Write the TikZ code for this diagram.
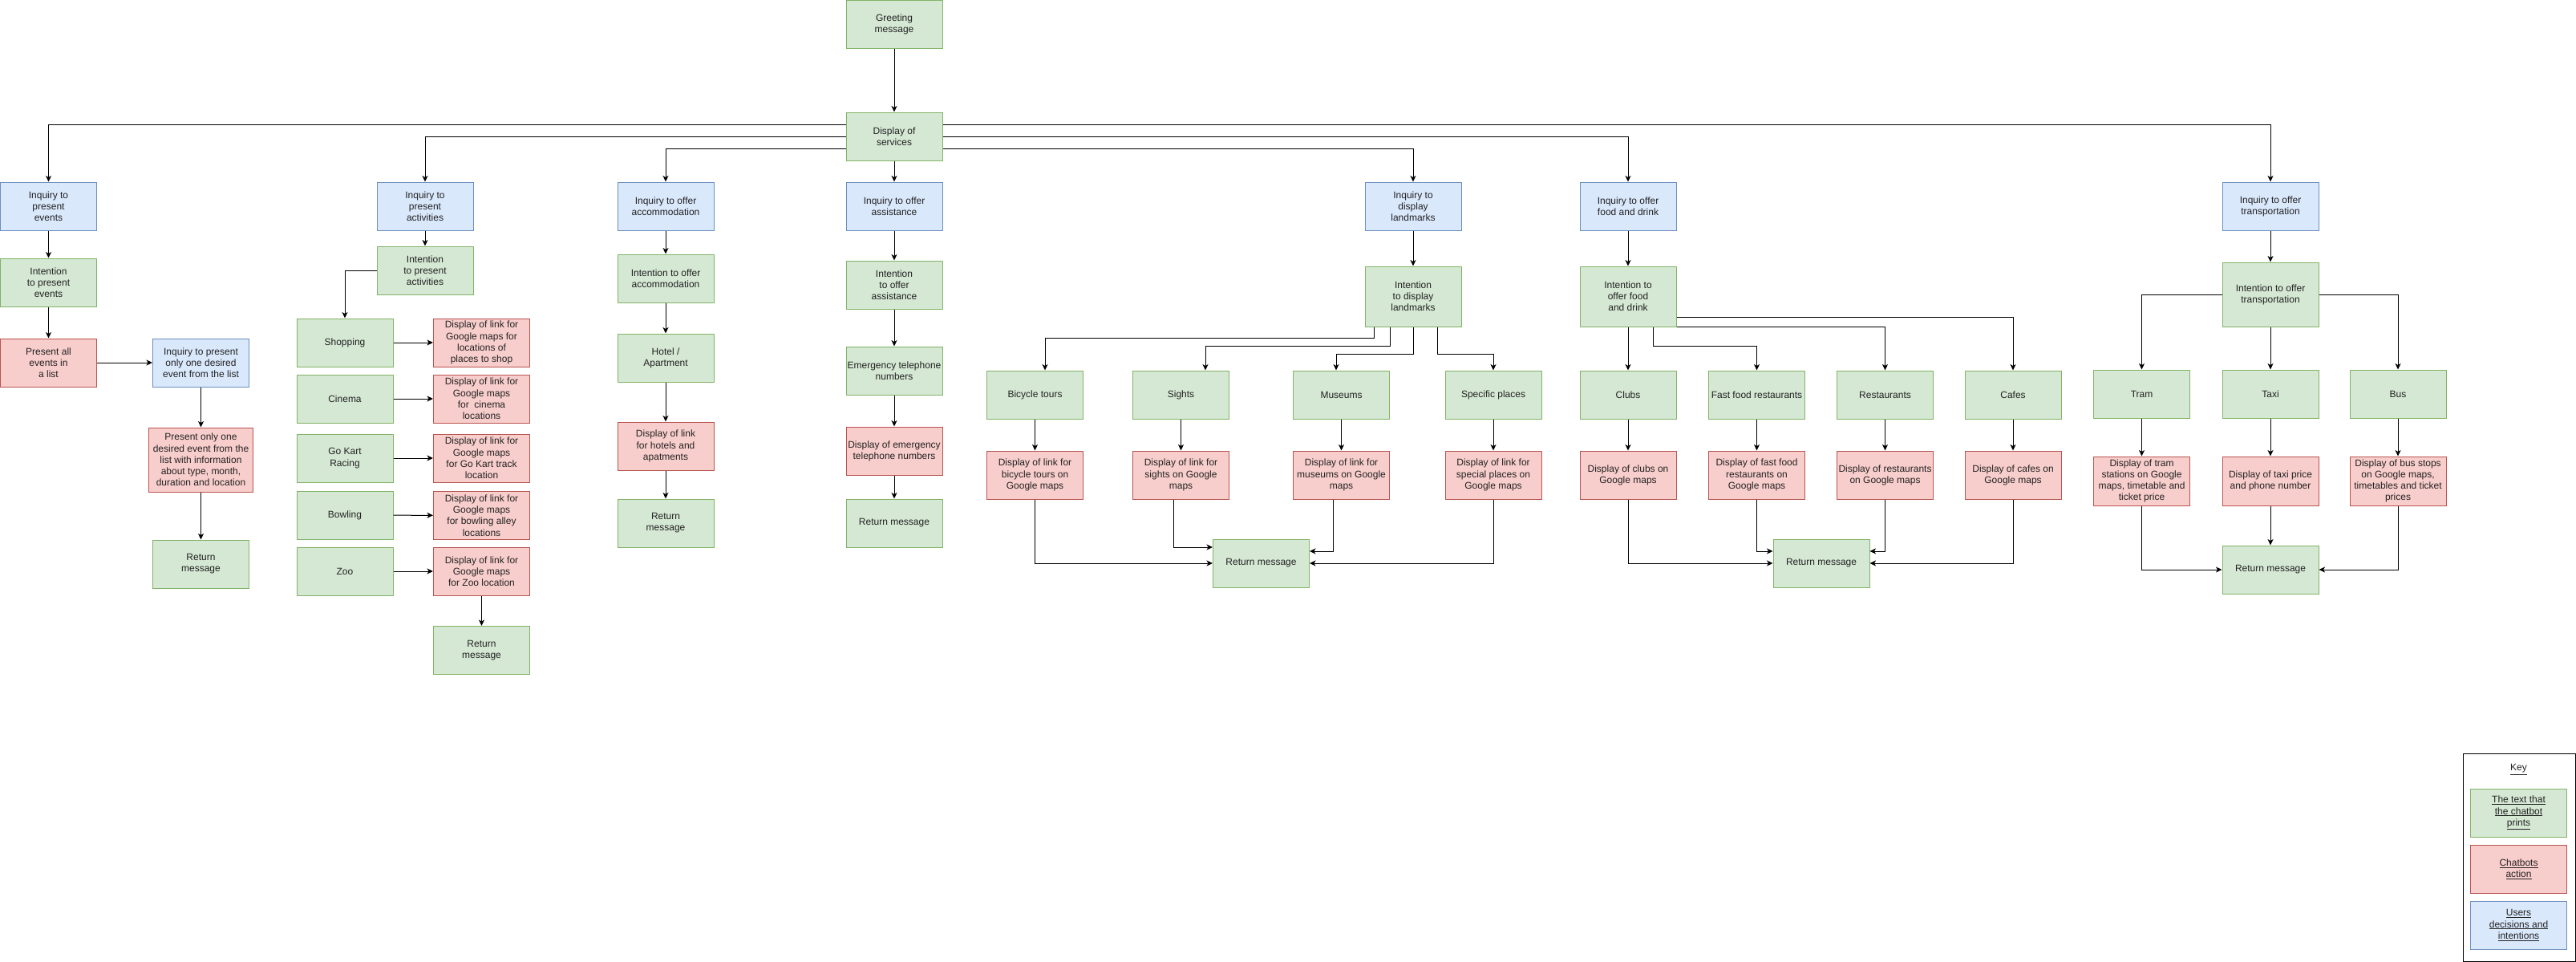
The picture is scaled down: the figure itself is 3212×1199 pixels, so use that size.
\documentclass[tikz,border=0pt]{standalone}
\usepackage{fontspec}
\setmainfont{Liberation Sans}
\usetikzlibrary{arrows.meta}
\definecolor{gfill}{HTML}{D5E8D4}\definecolor{gdraw}{HTML}{82B366}
\definecolor{rfill}{HTML}{F8CECC}\definecolor{rdraw}{HTML}{B85450}
\definecolor{bfill}{HTML}{DAE8FC}\definecolor{bdraw}{HTML}{6C8EBF}
\definecolor{txt}{HTML}{222222}
\begin{document}
\begin{tikzpicture}[x=1pt,y=-1pt,
  basebox/.style={draw, line width=1pt, minimum width=120pt, minimum height=60pt, inner sep=1pt, align=center, text=txt, font=\fontsize{12}{14.2}\selectfont},
  greenbox/.style={basebox, fill=gfill, draw=gdraw},
  redbox/.style={basebox, fill=rfill, draw=rdraw},
  bluebox/.style={basebox, fill=bfill, draw=bdraw},
  arr/.style={-{Stealth[length=7.5pt,width=7pt,inset=2pt]}, line width=1pt, black},
  keyframe/.style={draw, line width=1pt, black}]
\useasboundingbox (0,0) rectangle (3212,1199);
% ---- top
\node[greenbox] (greet) at (1115,30.5) {Greeting\\message};
\node[greenbox] (dsrv) at (1115,170) {Display of\\services};
% ---- events
\node[bluebox] (iev) at (60.5,257) {Inquiry to\\present\\events};
\node[greenbox] (nev) at (60.5,352) {Intention\\to present\\events};
\node[redbox] (pall) at (60.5,452) {Present all\\events in\\a list};
\node[bluebox] (ione) at (250.5,452) {Inquiry to present\\only one desired\\event from the list};
\node[redbox, minimum width=130pt, minimum height=80pt] (pone) at (250.5,573) {Present only one\\desired event from the\\list with information\\about type, month,\\duration and location};
\node[greenbox] (ret1) at (250.5,703) {Return\\message};
% ---- activities
\node[bluebox] (iact) at (530,257) {Inquiry to\\present\\activities};
\node[greenbox] (nact) at (530,337) {Intention\\to present\\activities};
\node[greenbox] (shop) at (430,427) {Shopping};
\node[redbox] (dshop) at (600.5,427) {Display of link for\\Google maps for\\locations of\\places to shop};
\node[greenbox] (cin) at (430,497) {Cinema};
\node[redbox] (dcin) at (600.5,497) {Display of link for\\Google maps\\for\ \ cinema\\locations};
\node[greenbox] (kart) at (430,571) {Go Kart\\Racing};
\node[redbox] (dkart) at (600.5,571) {Display of link for\\Google maps\\for Go Kart track\\location};
\node[greenbox] (bowl) at (430,642) {Bowling};
\node[redbox] (dbowl) at (600.5,642.5) {Display of link for\\Google maps\\for bowling alley\\locations};
\node[greenbox] (zoo) at (430,712) {Zoo};
\node[redbox] (dzoo) at (600.5,712) {Display of link for\\Google maps\\for Zoo location};
\node[greenbox] (ret2) at (600.5,810.5) {Return\\message};
% ---- accommodation
\node[bluebox] (iacc) at (830,257) {Inquiry to offer\\accommodation};
\node[greenbox] (nacc) at (830,347) {Intention to offer\\accommodation};
\node[greenbox] (hotel) at (830,446) {Hotel /\\Apartment};
\node[redbox] (dhotel) at (830,556) {Display of link\\for hotels and\\apatments};
\node[greenbox] (ret3) at (830,652) {Return\\message};
% ---- assistance
\node[bluebox] (iass) at (1115,257) {Inquiry to offer\\assistance};
\node[greenbox] (nass) at (1115,355) {Intention\\to offer\\assistance};
\node[greenbox] (emer) at (1115,462) {Emergency telephone\\numbers};
\node[redbox] (demer) at (1115,562) {Display of emergency\\telephone numbers};
\node[greenbox] (ret4) at (1115,652) {Return message};
% ---- landmarks
\node[bluebox] (ilm) at (1762,257) {Inquiry to\\display\\landmarks};
\node[greenbox, minimum height=75pt] (nlm) at (1762,369.5) {Intention\\to display\\landmarks};
\node[greenbox] (bike) at (1290.5,492) {Bicycle tours};
\node[greenbox] (sight) at (1472.5,492) {Sights};
\node[greenbox] (mus) at (1672.5,492) {Museums};
\node[greenbox] (spec) at (1862,492) {Specific places};
\node[redbox] (dbike) at (1290.5,592) {Display of link for\\bicycle tours on\\Google maps};
\node[redbox] (dsight) at (1472.5,592) {Display of link for\\sights on Google\\maps};
\node[redbox] (dmus) at (1672.5,592) {Display of link for\\museums on Google\\maps};
\node[redbox] (dspec) at (1862,592) {Display of link for\\special places on\\Google maps};
\node[greenbox] (ret5) at (1572.5,702) {Return message};
% ---- food
\node[bluebox] (ifd) at (2030,257) {Inquiry to offer\\food and drink};
\node[greenbox, minimum height=75pt] (nfd) at (2030,369.5) {Intention to\\offer food\\and drink};
\node[greenbox] (club) at (2030,492) {Clubs};
\node[greenbox] (fast) at (2190.5,492) {Fast food restaurants};
\node[greenbox] (rest) at (2350.5,492) {Restaurants};
\node[greenbox] (cafe) at (2510,492) {Cafes};
\node[redbox] (dclub) at (2030,592) {Display of clubs on\\Google maps};
\node[redbox] (dfast) at (2190.5,592) {Display of fast food\\restaurants on\\Google maps};
\node[redbox] (drest) at (2350.5,592) {Display of restaurants\\on Google maps};
\node[redbox] (dcafe) at (2510,592) {Display of cafes on\\Google maps};
\node[greenbox] (ret6) at (2271,702) {Return message};
% ---- transport
\node[bluebox] (itr) at (2831,257) {Inquiry to offer\\transportation};
\node[greenbox, minimum height=80pt] (ntr) at (2831,367) {Intention to offer\\transportation};
\node[greenbox] (tram) at (2670.5,491) {Tram};
\node[greenbox] (taxi) at (2831,491) {Taxi};
\node[greenbox] (bus) at (2990,491) {Bus};
\node[redbox, minimum height=61pt] (dtram) at (2670.5,599.5) {Display of tram\\stations on Google\\maps, timetable and\\ticket price};
\node[redbox, minimum height=61pt] (dtaxi) at (2831,599.5) {Display of taxi price\\and phone number};
\node[redbox, minimum height=61pt] (dbus) at (2990,599.5) {Display of bus stops\\on Google maps,\\timetables and ticket\\prices};
\node[greenbox] (ret7) at (2831,710) {Return message};
% ---- key
\draw[keyframe] (3071,939) rectangle (3211,1198);
\node[font=\fontsize{12}{14.2}\selectfont, text=txt] (keyt) at (3140.5,959) {\underline{Key}};
\node[greenbox] (kg) at (3140.5,1013) {\underline{The text that}\\\underline{the chatbot}\\\underline{prints}};
\node[redbox] (kr) at (3140.5,1083) {\underline{Chatbots}\\\underline{action}};
\node[bluebox] (kb) at (3140.5,1153) {\underline{Users}\\\underline{decisions and}\\\underline{intentions}};
% ================= connectors
\draw[arr] (greet) -- (dsrv);
\draw[arr] ([yshift=15pt]dsrv.west) -| (iev.north);
\draw[arr] (dsrv.west) -| (iact.north);
\draw[arr] ([yshift=-15pt]dsrv.west) -| (iacc.north);
\draw[arr] ([yshift=15pt]dsrv.east) -| (itr.north);
\draw[arr] (dsrv.east) -| (ifd.north);
\draw[arr] ([yshift=-15pt]dsrv.east) -| (ilm.north);
\draw[arr] (dsrv) -- (iass);
% events
\draw[arr] (iev) -- (nev);
\draw[arr] (nev) -- (pall);
\draw[arr] (pall) -- (ione);
\draw[arr] (ione) -- (pone);
\draw[arr] (pone) -- (ret1);
% activities
\draw[arr] (iact) -- (nact);
\draw[arr] (nact.west) -| (shop.north);
\draw[arr] (shop) -- (dshop);
\draw[arr] (cin) -- (dcin);
\draw[arr] (kart) -- (dkart);
\draw[arr] (bowl) -- (dbowl);
\draw[arr] (zoo) -- (dzoo);
\draw[arr] (dzoo) -- (ret2);
% accommodation
\draw[arr] (iacc) -- (nacc);
\draw[arr] (nacc) -- (hotel);
\draw[arr] (hotel) -- (dhotel);
\draw[arr] (dhotel) -- (ret3);
% assistance
\draw[arr] (iass) -- (nass);
\draw[arr] (nass) -- (emer);
\draw[arr] (emer) -- (demer);
\draw[arr] (demer) -- (ret4);
% landmarks
\draw[arr] (ilm) -- (nlm);
\draw[arr] ([xshift=-49pt]nlm.south) |- ([xshift=12.5pt,yshift=40pt]bike.north) -- ([xshift=12.5pt]bike.north);
\draw[arr] ([xshift=-29pt]nlm.south) |- ([xshift=30.5pt,yshift=30pt]sight.north) -- ([xshift=30.5pt]sight.north);
\draw[arr] (nlm.south) |- ([xshift=-6.5pt,yshift=20pt]mus.north) -- ([xshift=-6.5pt]mus.north);
\draw[arr] ([xshift=30pt]nlm.south) |- ([yshift=20pt]spec.north) -- (spec.north);
\draw[arr] (bike) -- (dbike);
\draw[arr] (sight) -- (dsight);
\draw[arr] (mus) -- (dmus);
\draw[arr] (spec) -- (dspec);
\draw[arr] (dbike.south) |- (ret5.west);
\draw[arr] ([xshift=-9.5pt]dsight.south) |- ([yshift=20pt]ret5.west);
\draw[arr] ([xshift=-10.5pt]dmus.south) |- ([yshift=15pt]ret5.east);
\draw[arr] (dspec.south) |- (ret5.east);
% food
\draw[arr] (ifd) -- (nfd);
\draw[arr] (nfd) -- (club);
\draw[arr] ([xshift=31pt]nfd.south) |- ([yshift=30pt]fast.north) -- (fast.north);
\draw[arr] (nfd.south east) -| (rest.north);
\draw[arr] ([yshift=-25.5pt]nfd.east) -| (cafe.north);
\draw[arr] (club) -- (dclub);
\draw[arr] (fast) -- (dfast);
\draw[arr] (rest) -- (drest);
\draw[arr] (cafe) -- (dcafe);
\draw[arr] (dclub.south) |- (ret6.west);
\draw[arr] (dfast.south) |- ([yshift=15pt]ret6.west);
\draw[arr] (drest.south) |- ([yshift=15pt]ret6.east);
\draw[arr] (dcafe.south) |- (ret6.east);
% transport
\draw[arr] (itr) -- (ntr);
\draw[arr] (ntr.west) -| (tram.north);
\draw[arr] (ntr) -- (taxi);
\draw[arr] (ntr.east) -| (bus.north);
\draw[arr] (tram) -- (dtram);
\draw[arr] (taxi) -- (dtaxi);
\draw[arr] (bus) -- (dbus);
\draw[arr] (dtram.south) |- (ret7.west);
\draw[arr] (dtaxi) -- (ret7);
\draw[arr] (dbus.south) |- (ret7.east);
\end{tikzpicture}
\end{document}
